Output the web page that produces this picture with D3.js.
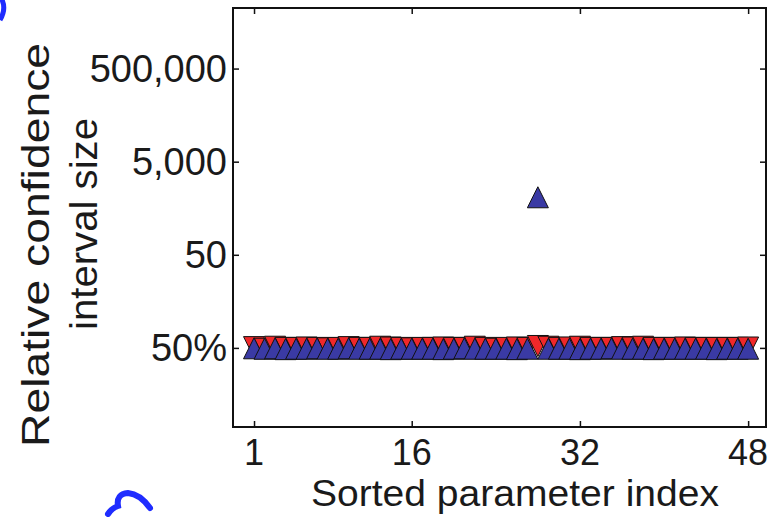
<!DOCTYPE html>
<html>
<head>
<meta charset="utf-8">
<script src="https://cdn.jsdelivr.net/npm/d3@7"></script>
<style>
  body { margin: 0; background: #fff; }
  svg { display: block; }
  text { font-family: "Liberation Sans", Arial, Helvetica, sans-serif; fill: #1a1a1a; }
</style>
</head>
<body>
<div id="chart"></div>
<script>
'use strict';

// parameter index 1..48
const indices = d3.range(1, 49);

// red (down triangles) and blue (up triangles) relative CI sizes
const redValues = [0.52, 0.48, 0.53, 0.50, 0.50, 0.51, 0.50, 0.49, 0.50, 0.52, 0.50, 0.50,
  0.53, 0.51, 0.50, 0.49, 0.50, 0.50, 0.51, 0.50, 0.50, 0.53, 0.50, 0.48,
  0.50, 0.51, 0.50, 0.55, 0.53, 0.50, 0.51, 0.53, 0.50, 0.50, 0.50, 0.52,
  0.51, 0.53, 0.50, 0.50, 0.50, 0.51, 0.50, 0.50, 0.50, 0.50, 0.50, 0.51];
const blueValues = [0.49, 0.48, 0.49, 0.47, 0.48, 0.48, 0.49, 0.48, 0.48, 0.49, 0.48, 0.48,
  0.48, 0.47, 0.48, 0.48, 0.48, 0.48, 0.47, 0.48, 0.49, 0.48, 0.48, 0.48,
  0.48, 0.47, 0.48, 860, 0.48, 0.48, 0.48, 0.47, 0.48, 0.48, 0.49, 0.48,
  0.48, 0.48, 0.47, 0.48, 0.48, 0.48, 0.48, 0.48, 0.47, 0.48, 0.48, 0.48];

const xTicks = [1, 16, 32, 48];
const yTicks = [0.5, 50, 5000, 500000];
const yTickLabels = ['50%', '50', '5,000', '500,000'];

const width = 768;
const height = 517;
const plot = { left: 233, right: 766, top: 8, bottom: 427 };

const x = d3.scaleLinear().domain([-1, 49.7]).range([plot.left, plot.right]);
const y = d3.scaleLog().domain([0.01, 1e7]).range([plot.bottom, plot.top]);

const svg = d3.select('#chart')
  .append('svg')
  .attr('width', width)
  .attr('height', height);

// stray blue strokes from neighbouring panels
svg.append('path')
  .attr('d', 'M1,-2 Q7,8 0,20')
  .attr('fill', 'none')
  .attr('stroke', '#1f2cff')
  .attr('stroke-width', 5);
svg.append('path')
  .attr('d', 'M108,514 Q112,508 118,506 Q116,494 128,493 Q140,494 150,508')
  .attr('fill', 'none')
  .attr('stroke', '#1f2cff')
  .attr('stroke-width', 6)
  .attr('stroke-linecap', 'round');

svg.append('clipPath').attr('id', 'clip')
  .append('rect')
  .attr('x', plot.left)
  .attr('y', plot.top)
  .attr('width', plot.right - plot.left)
  .attr('height', plot.bottom - plot.top);

const marks = svg.append('g').attr('clip-path', 'url(#clip)');

const tri = 10.5;
const downTri = `M${-tri},${-tri}L${tri},${-tri}L0,${tri}Z`;
const upTri = `M${-tri},${tri}L${tri},${tri}L0,${-tri}Z`;

marks.selectAll('path.red')
  .data(indices)
  .join('path')
  .attr('class', 'red')
  .attr('d', downTri)
  .attr('transform', (d, i) => `translate(${x(d)},${y(redValues[i])})`)
  .attr('fill', '#f0282a')
  .attr('stroke', '#111')
  .attr('stroke-width', 1);

marks.selectAll('path.blue')
  .data(indices)
  .join('path')
  .attr('class', 'blue')
  .attr('d', upTri)
  .attr('transform', (d, i) => `translate(${x(d)},${y(blueValues[i])})`)
  .attr('fill', '#3a3aa4')
  .attr('stroke', '#111')
  .attr('stroke-width', 1);

// axes: ticks pointing inward
const tickLen = 6;

const yAxis = svg.append('g')
  .attr('transform', `translate(${plot.left},0)`)
  .call(d3.axisRight(y).tickValues(yTicks).tickSize(tickLen).tickFormat(''));
const yAxisR = svg.append('g')
  .attr('transform', `translate(${plot.right},0)`)
  .call(d3.axisLeft(y).tickValues(yTicks).tickSize(tickLen).tickFormat(''));
const xAxis = svg.append('g')
  .attr('transform', `translate(0,${plot.bottom})`)
  .call(d3.axisTop(x).tickValues(xTicks).tickSize(tickLen).tickFormat(''));
const xAxisT = svg.append('g')
  .attr('transform', `translate(0,${plot.top})`)
  .call(d3.axisBottom(x).tickValues(xTicks).tickSize(tickLen).tickFormat(''));

[yAxis, yAxisR, xAxis, xAxisT].forEach((g) => {
  g.select('.domain').remove();
  g.selectAll('line').attr('stroke', '#111').attr('stroke-width', 1.5);
});

svg.append('rect')
  .attr('x', plot.left)
  .attr('y', plot.top)
  .attr('width', plot.right - plot.left)
  .attr('height', plot.bottom - plot.top)
  .attr('fill', 'none')
  .attr('stroke', '#111')
  .attr('stroke-width', 2);

svg.selectAll('text.ytick')
  .data(yTicks)
  .join('text')
  .attr('class', 'ytick')
  .attr('x', plot.left - 6)
  .attr('y', (d) => y(d) + 13)
  .attr('text-anchor', 'end')
  .attr('font-size', 38)
  .text((d, i) => yTickLabels[i]);

svg.selectAll('text.xtick')
  .data(xTicks)
  .join('text')
  .attr('class', 'xtick')
  .attr('x', (d) => x(d))
  .attr('y', 465)
  .attr('text-anchor', 'middle')
  .attr('font-size', 36)
  .text((d) => d);

svg.append('text')
  .attr('x', 515)
  .attr('y', 506)
  .attr('text-anchor', 'middle')
  .attr('font-size', 37)
  .attr('textLength', 408)
  .attr('lengthAdjust', 'spacingAndGlyphs')
  .text('Sorted parameter index');

svg.append('text')
  .attr('transform', 'translate(49,245) rotate(-90)')
  .attr('text-anchor', 'middle')
  .attr('font-size', 39)
  .attr('textLength', 404)
  .attr('lengthAdjust', 'spacingAndGlyphs')
  .text('Relative confidence');

svg.append('text')
  .attr('transform', 'translate(97,224) rotate(-90)')
  .attr('text-anchor', 'middle')
  .attr('font-size', 39)
  .attr('textLength', 212)
  .attr('lengthAdjust', 'spacingAndGlyphs')
  .text('interval size');
</script>
</body>
</html>
